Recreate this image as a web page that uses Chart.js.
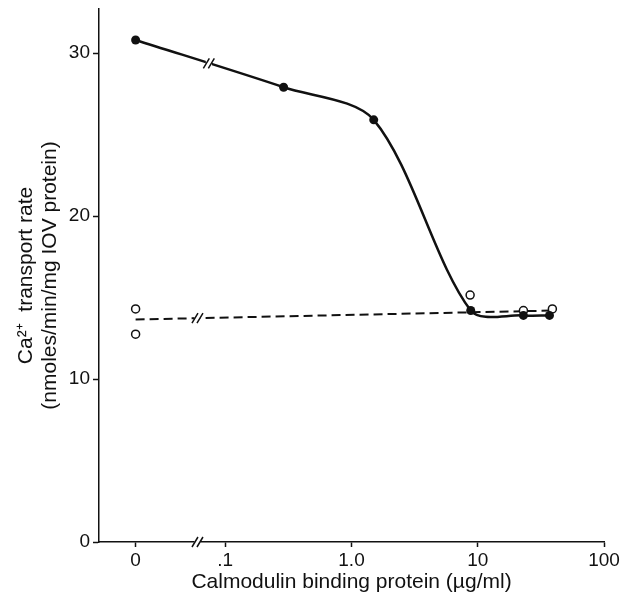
<!DOCTYPE html>
<html>
<head>
<meta charset="utf-8">
<script src="https://cdn.jsdelivr.net/npm/chart.js@4/dist/chart.umd.min.js"></script>
<style>
  html, body { margin: 0; padding: 0; background: #fff; }
  canvas { display: block; }
</style>
</head>
<body>
<canvas id="chart" width="626" height="596"></canvas>
<script>
// Ca2+ transport vs calmodulin binding protein (log axis with a break before 0.1)

// "0" has no log position, so it sits left of the axis break
const ZERO_POS = -1.71;

const X_TICK_VALUES = [ZERO_POS, -1, 0, 1, 2];
const X_TICK_LABELS = ['0', '.1', '1.0', '10', '100'];
const Y_TICK_VALUES = [0, 10, 20, 30];

// filled circles (solid curve)
const FILLED_CONC = [0, 0.29, 1.5, 8.8, 23, 37];
const FILLED_RATE = [30.8, 27.9, 25.9, 14.2, 13.9, 13.9];

// open circles
const OPEN_CONC = [0, 0, 8.7, 23, 39];
const OPEN_RATE = [14.3, 12.75, 15.15, 14.2, 14.3];

// dashed fit line through the open circles
const FIT_CONC = [0, 39];
const FIT_RATE = [13.65, 14.2];

const FONT = '"Liberation Sans", Arial, Helvetica, sans-serif';
const INK = '#111';

function xPos(c) {
    return c === 0 ? ZERO_POS : Math.log10(c);
}

function toPoints(conc, rate) {
    return conc.map((c, i) => ({ x: xPos(c), y: rate[i] }));
}

// "//" break marks on the lines and on the x axis
const breakMarks = {
    id: 'breakMarks',
    afterDraw(chart) {
        const ctx = chart.ctx;
        const xs = chart.scales.x;
        const ys = chart.scales.y;

        const lineY = (dsIndex, px) => {
            const pts = chart.getDatasetMeta(dsIndex).data;
            for (let i = 0; i < pts.length - 1; i++) {
                const a = pts[i], b = pts[i + 1];
                if (px >= a.x && px <= b.x) {
                    return a.y + (b.y - a.y) * (px - a.x) / (b.x - a.x);
                }
            }
            return pts[0].y;
        };

        const mark = (px, py) => {
            ctx.save();
            ctx.fillStyle = '#fff';
            ctx.fillRect(px - 3, py - 3, 6, 6);
            ctx.strokeStyle = INK;
            ctx.lineWidth = 1.5;
            ctx.beginPath();
            for (const dx of [-2.5, 2.5]) {
                ctx.moveTo(px + dx - 3, py + 5);
                ctx.lineTo(px + dx + 3, py - 5);
            }
            ctx.stroke();
            ctx.restore();
        };

        const solidX = xs.getPixelForValue(-1.13);
        mark(solidX, lineY(0, solidX));
        const dashX = xs.getPixelForValue(-1.22);
        mark(dashX, lineY(2, dashX));
        mark(xs.getPixelForValue(-1.22), ys.getPixelForValue(0));
    }
};

new Chart(document.getElementById('chart'), {
    type: 'line',
    data: {
        datasets: [
            {
                label: 'Filled',
                data: toPoints(FILLED_CONC, FILLED_RATE),
                borderColor: INK,
                borderWidth: 2.5,
                tension: 0.3,
                pointRadius: 4.5,
                pointBackgroundColor: INK,
                pointBorderColor: INK,
                pointBorderWidth: 0
            },
            {
                label: 'Open',
                data: toPoints(OPEN_CONC, OPEN_RATE),
                showLine: false,
                pointRadius: 4,
                pointBackgroundColor: '#fff',
                pointBorderColor: INK,
                pointBorderWidth: 1.5
            },
            {
                label: 'Fit',
                data: toPoints(FIT_CONC, FIT_RATE),
                borderColor: INK,
                borderWidth: 2,
                borderDash: [9, 5],
                pointRadius: 0
            }
        ]
    },
    options: {
        responsive: false,
        animation: false,
        layout: { padding: { top: 9, right: 22, bottom: 2, left: 0 } },
        plugins: {
            legend: { display: false },
            tooltip: { enabled: false }
        },
        scales: {
            x: {
                type: 'linear',
                min: -2,
                max: 2,
                afterFit: (scale) => { scale.height = 52; },
                afterBuildTicks: (scale) => {
                    scale.ticks = X_TICK_VALUES.map(v => ({ value: v }));
                },
                border: { display: true, color: INK, width: 1.5 },
                grid: {
                    drawOnChartArea: false,
                    drawTicks: true,
                    tickLength: 5,
                    tickWidth: 1.5,
                    tickColor: INK
                },
                ticks: {
                    color: INK,
                    padding: 2,
                    maxRotation: 0,
                    autoSkip: false,
                    font: { family: FONT, size: 19 },
                    callback: (value, index) => X_TICK_LABELS[index]
                },
                title: {
                    display: true,
                    text: 'Calmodulin binding protein (\u00b5g/ml)',
                    color: INK,
                    padding: { top: 0, bottom: 0 },
                    font: { family: FONT, size: 21, lineHeight: 1.15 }
                }
            },
            y: {
                type: 'linear',
                min: 0,
                max: 32.7,
                afterFit: (scale) => {
                    scale.width = 99;
                    scale.paddingTop = 0;
                    scale.paddingBottom = 0;
                },
                afterBuildTicks: (scale) => {
                    scale.ticks = Y_TICK_VALUES.map(v => ({ value: v }));
                },
                border: { display: true, color: INK, width: 1.5 },
                grid: {
                    drawOnChartArea: false,
                    drawTicks: true,
                    tickLength: 6,
                    tickWidth: 1.5,
                    tickColor: INK
                },
                ticks: {
                    color: INK,
                    padding: 3,
                    font: { family: FONT, size: 19 }
                },
                title: {
                    display: true,
                    text: ['Ca\u00b2\u207a  transport rate', '(nmoles/min/mg IOV protein)'],
                    color: INK,
                    padding: { top: 14, bottom: 0 },
                    font: { family: FONT, size: 21, lineHeight: 1.15 }
                }
            }
        }
    },
    plugins: [breakMarks]
});
</script>
</body>
</html>
